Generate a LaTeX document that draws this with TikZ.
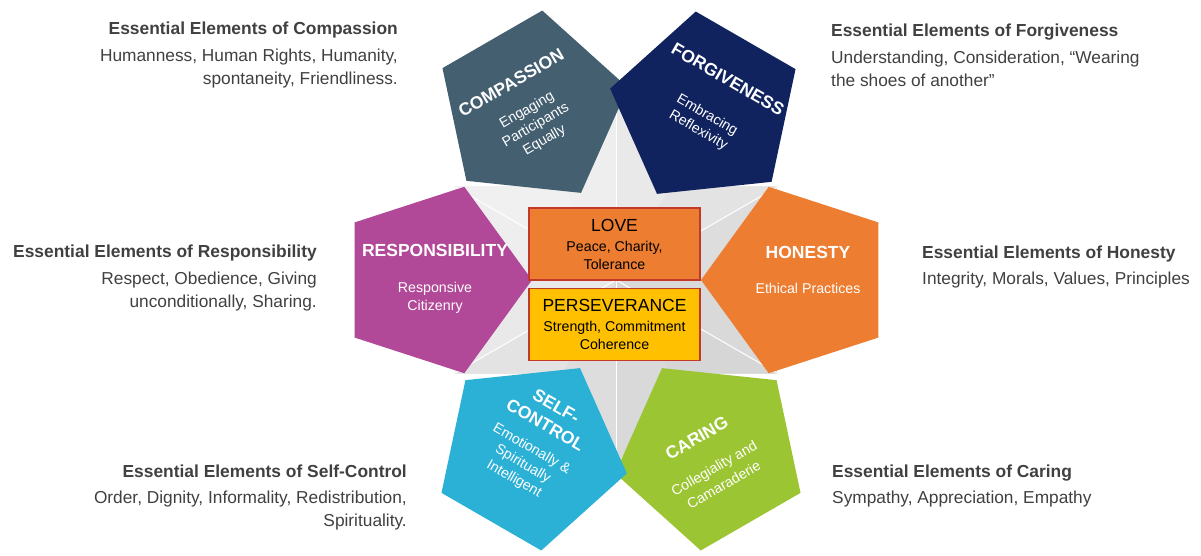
\documentclass[tikz,border=0pt]{standalone}
\usepackage{fontspec}
\setmainfont{Liberation Sans}
\usetikzlibrary{shapes.geometric,positioning}

\definecolor{compcol}{HTML}{445F70}
\definecolor{forgcol}{HTML}{10235F}
\definecolor{honcol}{HTML}{ED7D31}
\definecolor{carecol}{HTML}{9BC532}
\definecolor{selfcol}{HTML}{2BB0D6}
\definecolor{respcol}{HTML}{B14898}
\definecolor{lovecol}{HTML}{ED7D31}
\definecolor{perscol}{HTML}{FFC000}
\definecolor{boxline}{HTML}{C0392B}
\definecolor{txtgray}{HTML}{404040}

\newcommand{\hdrfont}{\fontsize{17.4}{23.5}\selectfont\bfseries}
\newcommand{\bodyfont}{\fontsize{17.3}{23.5}\selectfont}
\newcommand{\titfont}{\fontsize{17.5}{21}\selectfont\bfseries}
\newcommand{\subfont}{\fontsize{14.2}{17.5}\selectfont}
\newcommand{\boxhfont}{\fontsize{17.5}{21}\selectfont}

\tikzset{
  pent/.style={regular polygon, regular polygon sides=5, minimum size=196pt, inner sep=0pt},
  pentxt/.style={text=white, align=center, font=\subfont, inner sep=0pt},
  hdr/.style={font=\hdrfont, text=txtgray, inner sep=0pt},
  body/.style={font=\bodyfont, text=txtgray, inner sep=0pt},
  corebox/.style={draw=boxline, line width=1.2pt, minimum width=171pt, minimum height=72pt,
    align=center, inner sep=0pt, font=\subfont}
}

\begin{document}
\begin{tikzpicture}[x=1pt, y=1pt]
  \useasboundingbox (0,0) rectangle (1201,555);
  \coordinate (ctr) at (616,275);

  % grey star behind everything
  \foreach \a in {90,150,...,390} {
    \pgfmathtruncatemacro{\lgt}{22-10*cos(\a+15-135)}
    \pgfmathtruncatemacro{\rgt}{22-10*cos(\a-15-135)}
    \fill[gray!\lgt] (ctr) -- ([shift={(\a:190)}]ctr) -- ([shift={(\a+30:110)}]ctr) -- cycle;
    \fill[gray!\rgt] (ctr) -- ([shift={(\a:190)}]ctr) -- ([shift={(\a-30:110)}]ctr) -- cycle;
    \draw[white, line width=1pt] (ctr) -- ([shift={(\a:190)}]ctr);
  }
  \draw[white, line width=2.5pt] ([shift={(90:190)}]ctr)
    \foreach \a in {90,150,...,390} { -- ([shift={(\a:190)}]ctr) -- ([shift={(\a+30:110)}]ctr) } -- cycle;

  % pentagons
  \node[pent, fill=compcol, shape border rotate=210] (compassion) at (532,447) {};
  \node[pent, fill=forgcol, shape border rotate=150] (forgiveness) at (706,446) {};
  \node[pent, fill=honcol, shape border rotate=90] (honesty) at (799,275) {};
  \node[pent, fill=carecol, shape border rotate=30] (caring) at (711,102) {};
  \node[pent, fill=selfcol, shape border rotate=-30] (selfcontrol) at (531,102) {};
  \node[pent, fill=respcol, shape border rotate=270] (responsibility) at (434,275) {};

  % texts in the pentagons
  \node[pentxt, rotate=30] (compassion-t) at (528,443)
    {{\titfont COMPASSION}\\[12pt]Engaging\\Participants\\Equally};
  \node[pentxt, rotate=-30] (forgiveness-t) at (713,450)
    {{\titfont FORGIVENESS}\\[22pt]Embracing\\Reflexivity};
  \node[pentxt] (honesty-t) at (808,285)
    {{\titfont HONESTY}\\[18pt]Ethical Practices};
  \node[pentxt, rotate=30] (caring-t) at (710,94)
    {{\titfont CARING}\\[16pt]Collegiality and\\[2pt]Camaraderie};
  \node[pentxt, rotate=-30] (selfcontrol-t) at (535,112)
    {{\titfont SELF-}\\[4pt]{\titfont CONTROL}\\[8pt]Emotionally \&\\Spiritually\\Intelligent};
  \node[pentxt] (responsibility-t) at (435,276)
    {{\titfont RESPONSIBILITY}\\[18pt]Responsive\\[1pt]Citizenry};

  % core boxes
  \node[corebox, fill=lovecol] (love) at (614.5,311)
    {{\boxhfont LOVE}\\[3pt]Peace, Charity,\\Tolerance};
  \node[corebox, fill=perscol, below=7pt of love] (perseverance)
    {{\boxhfont PERSEVERANCE}\\[3pt]Strength, Commitment\\Coherence};

  % essential elements, left side
  \node[hdr, anchor=base east] (h-comp) at (398,520) {Essential Elements of Compassion};
  \node[body, align=right, below=13.5pt of h-comp.base east, anchor=north east] (b-comp)
    {Humanness, Human Rights, Humanity,\\spontaneity, Friendliness.};
  \node[hdr, anchor=base east] (h-resp) at (317,298) {Essential Elements of Responsibility};
  \node[body, align=right, below=14.5pt of h-resp.base east, anchor=north east] (b-resp)
    {Respect, Obedience, Giving\\unconditionally, Sharing.};
  \node[hdr, anchor=base east] (h-self) at (407,78) {Essential Elements of Self-Control};
  \node[body, align=right, below=13.5pt of h-self.base east, anchor=north east] (b-self)
    {Order, Dignity, Informality, Redistribution,\\Spirituality.};

  % essential elements, right side
  \node[hdr, anchor=base west] (h-forg) at (831,518) {Essential Elements of Forgiveness};
  \node[body, align=left, below=13.5pt of h-forg.base west, anchor=north west] (b-forg)
    {Understanding, Consideration, “Wearing\\the shoes of another”};
  \node[hdr, anchor=base west] (h-hon) at (922,297) {Essential Elements of Honesty};
  \node[body, align=left, below=13.5pt of h-hon.base west, anchor=north west] (b-hon)
    {Integrity, Morals, Values, Principles};
  \node[hdr, anchor=base west] (h-care) at (832,78) {Essential Elements of Caring};
  \node[body, align=left, below=13.5pt of h-care.base west, anchor=north west] (b-care)
    {Sympathy, Appreciation, Empathy};
\end{tikzpicture}
\end{document}
